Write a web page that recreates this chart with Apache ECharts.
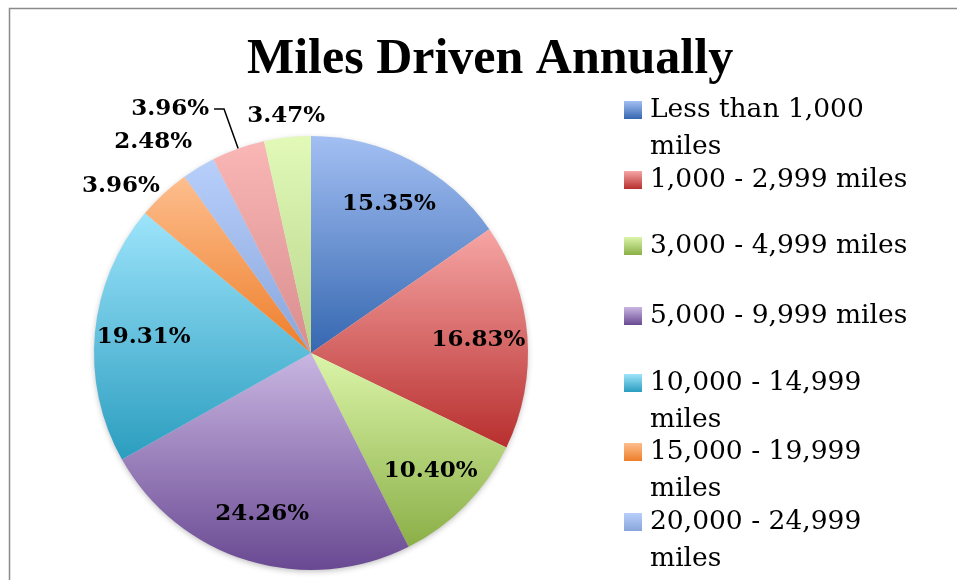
<!DOCTYPE html>
<html>
<head>
<meta charset="utf-8">
<script src="https://cdn.jsdelivr.net/npm/echarts@6/dist/echarts.min.js"></script>
<style>
  html, body { margin: 0; padding: 0; background: #fff; }
  #chart { width: 957px; height: 580px; }
</style>
</head>
<body>
<div id="chart"></div>
<script>
// Share of drivers by annual mileage band (percent)
const categories = [
  'Less than 1,000 miles',
  '1,000 - 2,999 miles',
  '3,000 - 4,999 miles',
  '5,000 - 9,999 miles',
  '10,000 - 14,999 miles',
  '15,000 - 19,999 miles',
  '20,000 - 24,999 miles',
  '25,000 - 29,999 miles',
  '30,000 miles or more'
];
const shares = [15.35, 16.83, 10.40, 24.26, 19.31, 3.96, 2.48, 3.96, 3.47];

// Vertical gradient (light top -> dark bottom) for each slice
const topColors    = ['#a3bff3', '#f6a6a5', '#dbf5a9', '#c9b6e2', '#9de4fb', '#fdbe8e', '#b8cffb', '#f9b7b6', '#e2f9b8'];
const bottomColors = ['#3567b0', '#b72f2e', '#8baf47', '#694992', '#2b9dbf', '#ee7e2a', '#88a5db', '#d98d8d', '#b8d58b'];

// Legend entries that wrap their last word onto a second line
const legendWraps = [true, false, false, false, true, true, true];
// Vertical centre of each legend entry's first line
const legendRows = [110, 180, 246, 316, 383, 452, 522];

// Outside-label placement for the thin slices: [length, length2, distance, showLine]
const outsideLabels = {
  5: [10, -3, 0, false],
  6: [30, -9, 0, false],
  7: [42, 10, 5, true],
  8: [21, -40, 0, false]
};

const labelFont = {
  fontFamily: 'DejaVu Serif',
  fontWeight: 'bold',
  fontSize: 23,
  color: '#000'
};

function gradient(i) {
  return new echarts.graphic.LinearGradient(0, 0, 0, 1, [
    { offset: 0, color: topColors[i] },
    { offset: 1, color: bottomColors[i] }
  ]);
}

const fmtPct = p => p.value.toFixed(2) + '%';

const mainData = shares.map((v, i) => {
  const o = outsideLabels[i];
  const item = { name: categories[i], value: v, itemStyle: { color: gradient(i) } };
  if (o) {
    item.label = { show: true, position: 'outside', distanceToLabelLine: o[2] };
    item.labelLine = { show: o[3], length: o[0], length2: o[1] };
  } else {
    item.label = { show: false };
    item.labelLine = { show: false };
  }
  return item;
});

// Label ring: carries the in-slice percentages at mid radius
const ringData = shares.map((v, i) => ({
  name: categories[i],
  value: v,
  label: { show: !outsideLabels[i] }
}));

// Soft drop shadow under the pie
const shadowData = shares.map((v, i) => ({ name: categories[i], value: v }));

// One legend block per entry; wrapped entries get a blank leading line so the
// marker sits beside the first line of text
const legends = legendRows.map((y, i) => ({
  orient: 'vertical',
  left: 624,
  top: legendWraps[i] ? y - 55.5 : y - 18.5,
  padding: 0,
  icon: 'rect',
  itemWidth: 18,
  itemHeight: 18,
  data: [categories[i]],
  formatter: name => legendWraps[i] ? '\n' + name.replace(/ miles$/, '\nmiles') : name,
  textStyle: {
    fontFamily: 'DejaVu Serif',
    fontSize: 26.5,
    color: '#000',
    lineHeight: 37,
    padding: [0, 0, 0, 3]
  }
}));

const chart = echarts.init(document.getElementById('chart'), null, { renderer: 'canvas' });
chart.setOption({
  backgroundColor: '#fff',
  animation: false,
  title: {
    text: 'Miles Driven Annually',
    left: 247,
    top: 35,
    padding: 0,
    textStyle: {
      fontFamily: 'Liberation Serif',
      fontWeight: 'bold',
      fontSize: 50,
      color: '#000'
    }
  },
  legend: legends,
  graphic: [{
    type: 'rect',
    silent: true,
    shape: { x: 9.5, y: 8.5, width: 1000, height: 1000 },
    style: { fill: 'none', stroke: '#8a8a8a', lineWidth: 1.5 }
  }],
  series: [
    {
      type: 'pie',
      z: 3,
      center: [311, 353],
      radius: 217,
      startAngle: 90,
      clockwise: true,
      avoidLabelOverlap: false,
      data: mainData,
      label: Object.assign({ formatter: fmtPct }, labelFont),
      labelLine: { lineStyle: { color: '#000', width: 1.5 } },
      itemStyle: { borderWidth: 0 },
      emphasis: { scale: false }
    },
    {
      type: 'pie',
      z: 4,
      center: [311, 353],
      radius: [125, 205],
      startAngle: 90,
      clockwise: true,
      silent: true,
      avoidLabelOverlap: false,
      data: ringData,
      itemStyle: { color: 'rgba(0,0,0,0)', borderWidth: 0 },
      label: Object.assign({ position: 'inside', formatter: fmtPct }, labelFont),
      labelLine: { show: false },
      emphasis: { disabled: true }
    },
    {
      type: 'pie',
      z: 1,
      center: [311, 353],
      radius: 216,
      startAngle: 90,
      clockwise: true,
      silent: true,
      data: shadowData,
      itemStyle: {
        color: '#ffffff',
        borderWidth: 0,
        shadowBlur: 6,
        shadowOffsetY: 2,
        shadowColor: 'rgba(0,0,0,0.3)'
      },
      label: { show: false },
      labelLine: { show: false },
      emphasis: { disabled: true }
    }
  ]
});
</script>
</body>
</html>
